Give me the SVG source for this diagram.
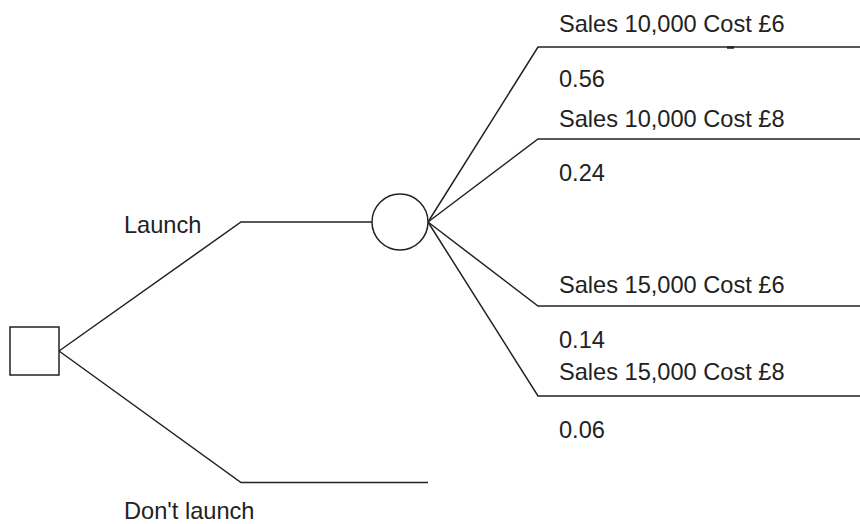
<svg xmlns="http://www.w3.org/2000/svg" width="860" height="524" viewBox="0 0 860 524">
<style>
.ln{fill:none;stroke:#222;stroke-width:1.5}
.nd{fill:#fff;stroke:#222;stroke-width:1.5}
text{font-family:"Liberation Sans",Arial,sans-serif;font-size:23.6px;fill:#222}
</style>
<rect width="860" height="524" fill="#fff"/>
<g id="connectors">
<polyline class="ln" points="59,351 241,222 372,222"/>
<polyline class="ln" points="59,351 241,482.5 428,482.5"/>
<polyline class="ln" points="428,222 538,47 860,47"/>
<polyline class="ln" points="428,222 538,139 860,139"/>
<polyline class="ln" points="428,222 538,306 860,306"/>
<polyline class="ln" points="428,222 538,396 860,396"/>
<line x1="727" y1="47.5" x2="734" y2="47.5" stroke="#222" stroke-width="2.5"/>
</g>
<g id="decision"><rect class="nd" x="10" y="327" width="49" height="48"/></g>
<g id="chance"><circle class="nd" cx="400" cy="222" r="28"/></g>
<g id="labels">
<text x="124" y="233">Launch</text>
<text x="124" y="519">Don't launch</text>
<text x="559" y="32">Sales 10,000 Cost £6</text>
<text x="559" y="87">0.56</text>
<text x="559" y="127">Sales 10,000 Cost £8</text>
<text x="559" y="181">0.24</text>
<text x="559" y="293">Sales 15,000 Cost £6</text>
<text x="559" y="348">0.14</text>
<text x="559" y="380">Sales 15,000 Cost £8</text>
<text x="559" y="438">0.06</text>
</g>
</svg>
